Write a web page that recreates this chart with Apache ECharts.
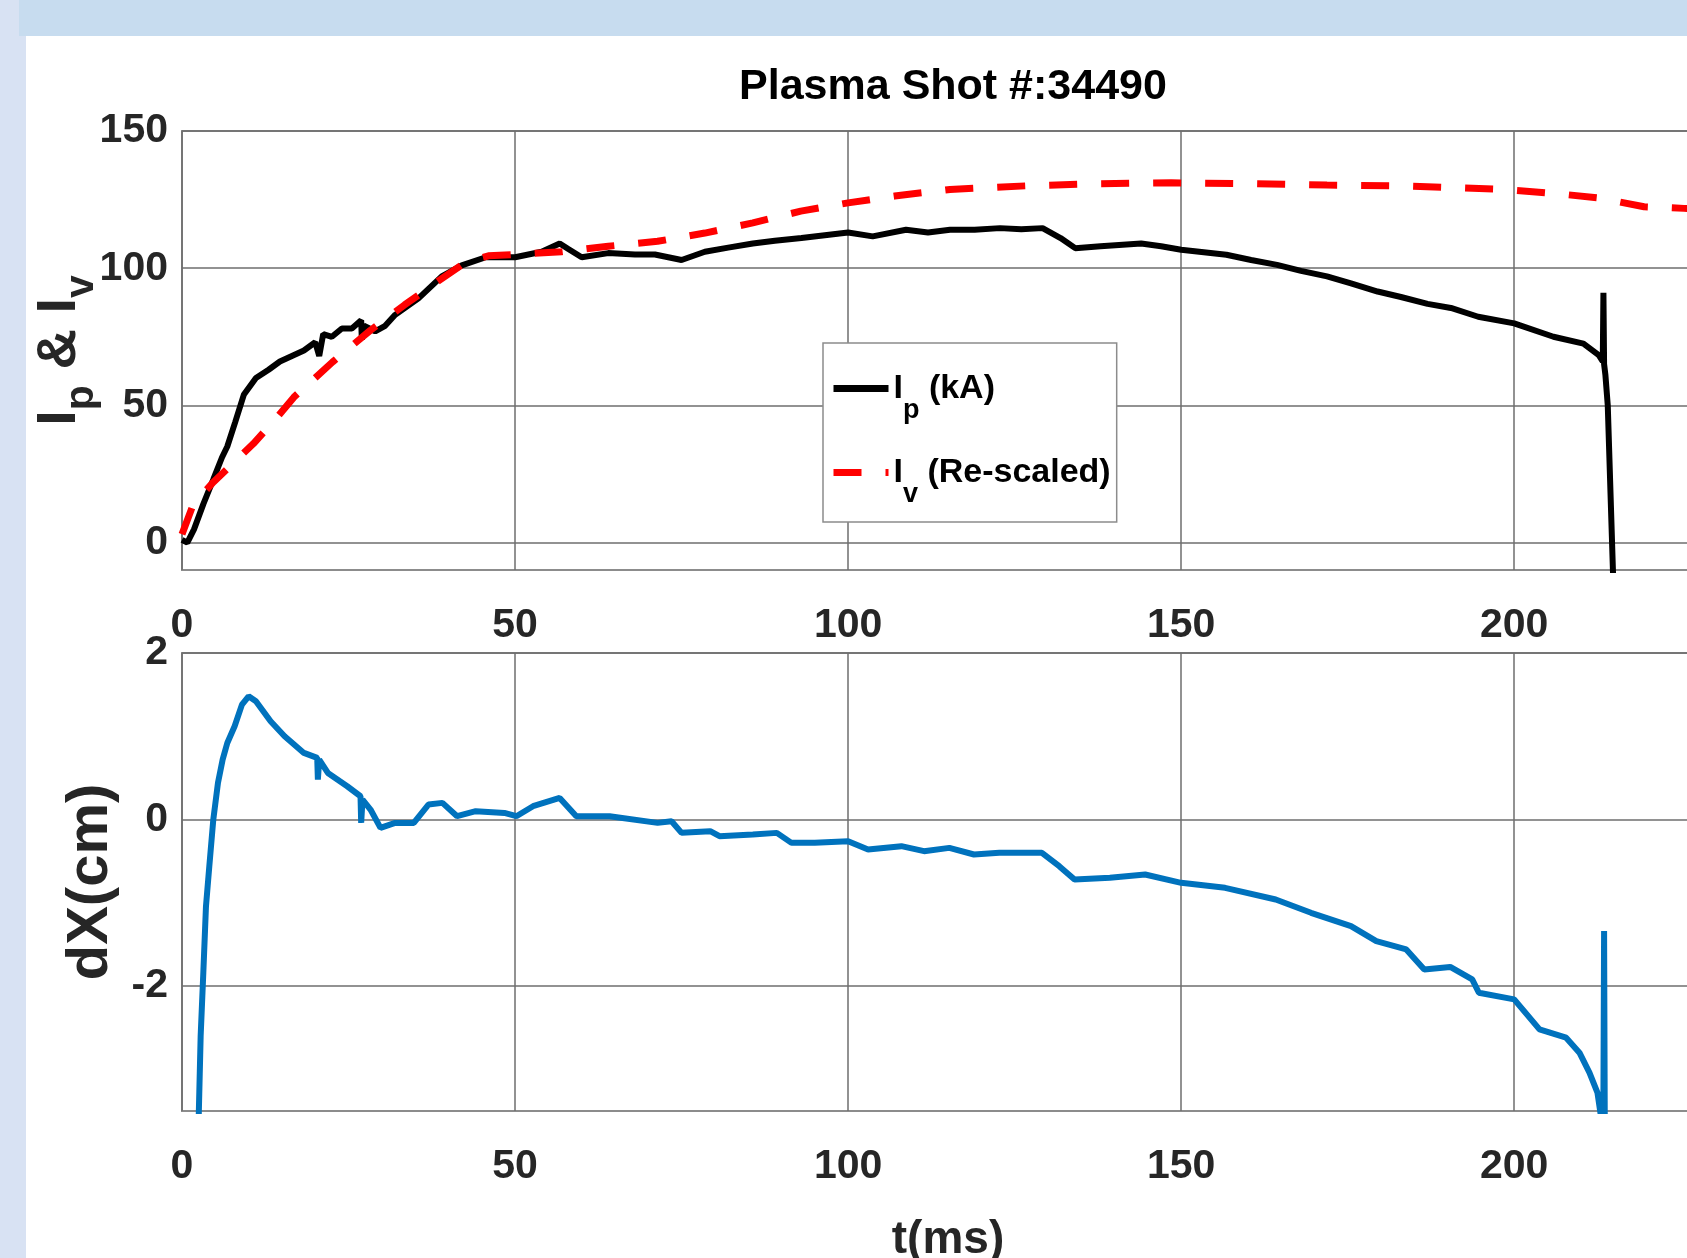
<!DOCTYPE html>
<html>
<head>
<meta charset="utf-8">
<title>Plasma Shot #:34490</title>
<script src="https://cdn.jsdelivr.net/npm/echarts@6/dist/echarts.min.js"></script>
<style>
  html, body { margin: 0; padding: 0; overflow: hidden; background: #fff; }
  #chart { width: 1687px; height: 1258px; }
</style>
</head>
<body>
<div id="chart"></div>
<script>
// plasma current Ip (kA) vs time (ms)
const ipTime = [0, 0.8, 1.8, 3.2, 4.7, 6.0, 6.8, 8.0, 9.3, 11.1, 13.0, 14.7, 16.5, 18.3, 20.0, 20.6, 21.2, 22.5, 24, 25.5,
  26.9, 27.0, 27.3, 29, 30.5, 32, 35.5, 39, 42, 45.6, 50, 54, 56.7, 58, 60, 64, 68, 71, 75, 78.5,
  82, 85.7, 89, 93, 96.5, 100, 103.7, 108.7, 112, 115.3, 119, 122.8, 126, 129.2, 131.9, 134.1, 137.9, 144, 147, 150,
  156.8, 160.5, 164.4, 168, 171.9, 175.5, 179.5, 183, 187, 190.5, 194.6, 200, 205.9, 210.4, 212.7, 213.3, 213.4, 213.5, 213.7, 214.05, 214.85]
const ipValue = [1, 0, 4.8, 14, 23, 31, 35, 44, 54, 60, 63, 66, 68, 70, 73, 68, 76, 75, 78, 78,
  81, 74, 79, 77, 79, 83, 89, 97, 101, 104, 104, 106, 109, 107, 104, 105.5, 105, 105, 103, 106,
  107.5, 109, 110, 111, 112, 113, 111.6, 114, 113, 114, 114, 114.6, 114.2, 114.6, 111, 107.3, 108, 109, 108, 106.7,
  104.9, 103, 101.2, 99, 97, 94.5, 91.5, 89.5, 87, 85.5, 82.3, 79.9, 75, 72.5, 68.3, 66, 91, 65, 61, 50, -12]

// vertical field current Iv, re-scaled
const ivTime = [0, 1.7, 4.7, 7.7, 10.7, 13.7, 16.8, 22.6, 28.3, 33.4, 37.7, 42.7, 46, 50, 57, 64, 71.4, 78.5, 85.7, 92.9,
  100, 107, 115.3, 126.6, 137.9, 148.5, 160.6, 171.9, 183.2, 198.3, 205.9, 212.7, 219.5, 225.5, 230]
const ivValue = [3, 14, 22, 29, 36, 44, 53, 65.8, 77.4, 86.6, 94, 102.4, 104.5, 105, 106, 108, 109.8, 112.8, 116.5, 120.8,
  123.8, 126.3, 128.7, 130, 130.8, 131.1, 130.8, 130.3, 130, 128.7, 127.3, 125.6, 122.4, 121.8, 121.5]

// horizontal displacement dX (cm)
const dxTime = [2.5, 2.8, 3.2, 3.6, 4.1, 4.7, 5.4, 6.1, 6.8, 7.9, 9.0, 10.0, 11.1, 13.3, 15.4, 18.3, 20.3, 20.4, 20.6, 21.9,
  24.8, 26.8, 26.9, 27.1, 28.3, 29.8, 32, 34.8, 37, 39.1, 41.3, 44.1, 48.4, 50.2, 52.7, 56.7, 59.2, 64.2, 71.4, 73.5,
  75, 79.3, 80.7, 85.7, 89.3, 91.5, 95, 100, 103, 108, 111.4, 115.2, 118.9, 122.7, 129.1, 131.7, 134, 139.3, 144.6, 150,
  156.6, 164.2, 169.5, 175.5, 179.3, 183.8, 186.5, 190.4, 193.7, 194.7, 200, 203.8, 207.8, 209.8, 211.3, 212.5, 213.0, 213.4, 213.5, 213.6]
const dxValue = [-3.6, -2.6, -1.84, -1.04, -0.56, 0, 0.44, 0.72, 0.92, 1.12, 1.38, 1.48, 1.42, 1.18, 1.0, 0.8, 0.74, 0.48, 0.72, 0.56,
  0.4, 0.28, -0.04, 0.24, 0.12, -0.1, -0.04, -0.04, 0.18, 0.2, 0.04, 0.1, 0.08, 0.04, 0.16, 0.26, 0.04, 0.04, -0.04, -0.02,
  -0.16, -0.14, -0.2, -0.18, -0.16, -0.28, -0.28, -0.26, -0.36, -0.32, -0.38, -0.34, -0.42, -0.4, -0.4, -0.56, -0.72, -0.7, -0.66, -0.76,
  -0.82, -0.96, -1.12, -1.28, -1.46, -1.56, -1.8, -1.77, -1.92, -2.08, -2.16, -2.52, -2.62, -2.8, -3.04, -3.28, -3.55, -3.3, -1.34, -3.6]

const timeTicks = [0, 50, 100, 150, 200]
const currentTicks = [0, 50, 100, 150]
const dxTicks = [-2, 0, 2]

const sans = "'Liberation Sans', Arial, Helvetica, sans-serif"
const labelColor = '#262626'
const gridColor = '#6e6e6e'
const none = 'rgba(0,0,0,0)'

function zip(t, v) {
  return t.map((x, i) => [x, v[i]])
}
function hasTick(list, v) {
  return list.some(t => Math.abs(t - v) < 1e-9)
}

const tickLabel = {
  color: labelColor,
  fontFamily: sans,
  fontWeight: 'bold',
  fontSize: 41
}

function timeAxis(idx, withName) {
  return {
    gridIndex: idx,
    type: 'value',
    min: 0,
    max: 230,
    interval: 50,
    axisLine: { show: false },
    axisTick: { show: false },
    axisLabel: Object.assign({}, tickLabel, {
      margin: 35,
      formatter: v => hasTick(timeTicks, v) ? String(v) : ''
    }),
    splitLine: { show: true, lineStyle: { color: gridColor, width: 1.5 } },
    name: withName ? 't(ms)' : '',
    nameLocation: 'middle',
    nameGap: 106,
    nameTextStyle: { color: labelColor, fontFamily: sans, fontWeight: 'bold', fontSize: 46 }
  }
}

const chart = echarts.init(document.getElementById('chart'))

const option = {
  animation: false,
  backgroundColor: '#ffffff',
  graphic: [
    { type: 'rect', silent: true, shape: { x: 0, y: 0, width: 19, height: 1258 }, style: { fill: '#d8e2f3' } },
    { type: 'rect', silent: true, shape: { x: 19, y: 36, width: 7, height: 1222 }, style: { fill: '#d8e2f3' } },
    { type: 'rect', silent: true, shape: { x: 19, y: 0, width: 1668, height: 36 }, style: { fill: '#c7dcef' } }
  ],
  title: {
    text: 'Plasma Shot #:34490',
    left: 948,
    top: 61,
    textAlign: 'center',
    textStyle: { color: '#000', fontFamily: sans, fontWeight: 'bold', fontSize: 43 }
  },
  legend: {
    orient: 'vertical',
    left: 823,
    top: 343,
    data: ['Ip', 'Iv'],
    backgroundColor: '#ffffff',
    borderColor: '#8c8c8c',
    borderWidth: 1.5,
    borderRadius: 0,
    padding: [10, 6, 14, 7],
    itemGap: 13,
    itemWidth: 55,
    itemHeight: 2,
    itemStyle: { opacity: 0 },
    lineStyle: { width: 7 },
    formatter: name => name === 'Ip' ? '{m|I}{s|p}{m| (kA)}' : '{m|I}{s|v}{m| (Re-scaled)}',
    textStyle: {
      color: '#000',
      rich: {
        m: { fontFamily: sans, fontWeight: 'bold', fontSize: 34, lineHeight: 44, color: '#000' },
        s: { fontFamily: sans, fontWeight: 'bold', fontSize: 27, lineHeight: 30, padding: [44, 0, 0, 0], color: '#000' }
      }
    }
  },
  grid: [
    { left: 182, top: 131, right: -27, height: 439, show: true, borderColor: '#8c8c8c', borderWidth: 2, backgroundColor: 'transparent', outerBoundsMode: 'none', containLabel: false },
    { left: 182, top: 653, right: -27, height: 458, show: true, borderColor: '#8c8c8c', borderWidth: 2, backgroundColor: 'transparent', outerBoundsMode: 'none', containLabel: false }
  ],
  xAxis: [timeAxis(0, false), timeAxis(1, true)],
  yAxis: [
    {
      gridIndex: 0,
      type: 'value',
      min: -10,
      max: 150,
      interval: 10,
      axisLine: { show: false },
      axisTick: { show: false },
      axisLabel: Object.assign({}, tickLabel, {
        margin: 14,
        formatter: v => hasTick(currentTicks, v) ? String(v) : ''
      }),
      splitLine: { show: true, lineStyle: { color: [none, gridColor, none, none, none], width: 1.5 } },
      name: '{m|I}{s|p}{m| & I}{s|v}',
      nameLocation: 'middle',
      nameRotate: 90,
      nameGap: 97,
      nameMoveOverlap: false,
      nameTextStyle: {
        rich: {
          m: { fontFamily: sans, fontWeight: 'bold', fontSize: 56, lineHeight: 50, color: labelColor },
          s: { fontFamily: sans, fontWeight: 'bold', fontSize: 41, lineHeight: 36, padding: [44, 0, 0, 0], color: labelColor }
        }
      }
    },
    {
      gridIndex: 1,
      type: 'value',
      min: -3.5,
      max: 2,
      interval: 0.5,
      axisLine: { show: false },
      axisTick: { show: false },
      axisLabel: Object.assign({}, tickLabel, {
        margin: 14,
        formatter: v => hasTick(dxTicks, v) ? String(v) : ''
      }),
      splitLine: { show: true, lineStyle: { color: [none, none, none, gridColor], width: 1.5 } },
      name: 'dX(cm)',
      nameLocation: 'middle',
      nameRotate: 90,
      nameGap: 62,
      nameMoveOverlap: false,
      nameTextStyle: { color: labelColor, fontFamily: sans, fontWeight: 'bold', fontSize: 58 }
    }
  ],
  series: [
    {
      name: 'Ip',
      type: 'line',
      xAxisIndex: 0,
      yAxisIndex: 0,
      data: zip(ipTime, ipValue),
      symbol: 'none',
      clip: true,
      lineStyle: { color: '#000000', width: 6 },
      itemStyle: { color: '#000000' }
    },
    {
      name: 'Iv',
      type: 'line',
      xAxisIndex: 0,
      yAxisIndex: 0,
      data: zip(ivTime, ivValue),
      symbol: 'none',
      clip: true,
      lineStyle: { color: '#ff0000', width: 7, type: [28, 24] },
      itemStyle: { color: '#ff0000' }
    },
    {
      name: 'dX',
      type: 'line',
      xAxisIndex: 1,
      yAxisIndex: 1,
      data: zip(dxTime, dxValue),
      symbol: 'none',
      clip: true,
      lineStyle: { color: '#0072bd', width: 6 },
      itemStyle: { color: '#0072bd' }
    }
  ]
}

chart.setOption(option)
</script>
</body>
</html>
